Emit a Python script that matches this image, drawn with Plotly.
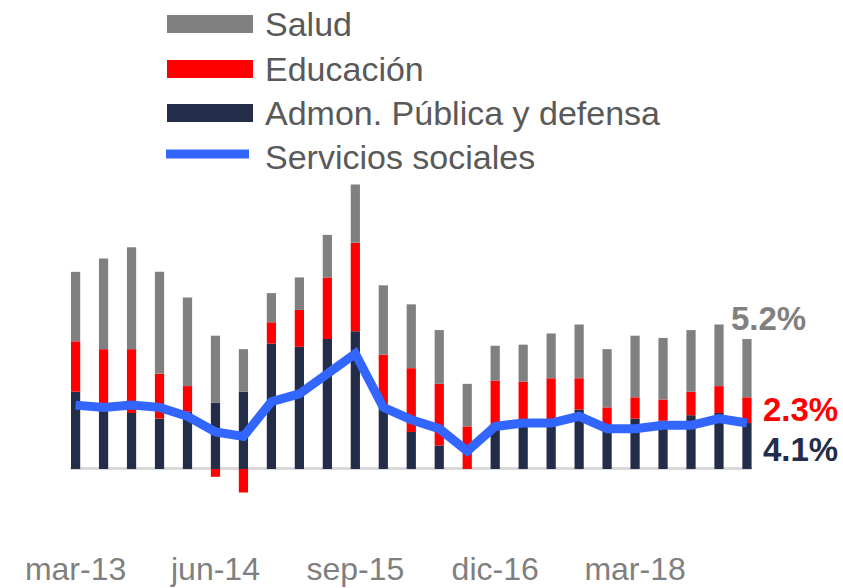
import plotly.graph_objects as go

quarters = ["mar-13", "jun-13", "sep-13", "dic-13", "mar-14", "jun-14", "sep-14", "dic-14",
            "mar-15", "jun-15", "sep-15", "dic-15", "mar-16", "jun-16", "sep-16", "dic-16",
            "mar-17", "jun-17", "sep-17", "dic-17", "mar-18", "jun-18", "sep-18", "dic-18", "mar-19"]
tick_labels = ["mar-13", "jun-14", "sep-15", "dic-16", "mar-18"]

admon = [6.9, 5.8, 5.0, 4.5, 5.1, 5.9, 6.9, 11.2, 10.9, 11.6, 12.3, 5.6, 3.3, 2.1, 0.0,
         3.7, 3.9, 3.9, 5.3, 4.0, 4.5, 4.3, 4.8, 5.0, 4.1]
educacion = [4.5, 4.9, 5.7, 4.0, 2.3, -0.7, -2.1, 1.9, 3.3, 5.5, 7.9, 4.6, 5.7, 5.5, 3.8,
             4.2, 3.9, 4.2, 2.8, 1.5, 1.9, 1.9, 2.1, 2.4, 2.3]
salud = [6.2, 8.1, 9.1, 9.1, 7.9, 6.0, 3.8, 2.6, 2.9, 3.8, 5.2, 6.2, 5.7, 4.8, 3.8,
         3.1, 3.3, 4.0, 4.8, 5.2, 5.5, 5.5, 5.5, 5.5, 5.2]
servicios = [5.7, 5.5, 5.7, 5.5, 4.7, 3.3, 2.9, 6.0, 6.7, 8.5, 10.3, 5.5, 4.4, 3.6, 1.6,
             3.8, 4.1, 4.1, 4.7, 3.6, 3.6, 3.9, 3.9, 4.5, 4.1]

C_GRAY = "#808080"
C_RED = "#FF0000"
C_NAVY = "#232C48"
C_BLUE = "#3366FF"
FONT = "Liberation Sans, Arial, sans-serif"

W, H = 843, 588
ML, MR, MT, MB = 70, 91, 180, 46

def px_x(p):
    return (p - ML) / (W - ML - MR)

def px_y(p):
    return (H - MB - p) / (H - MT - MB)

fig = go.Figure()
fig.add_trace(go.Bar(x=quarters, y=admon, name="Admon. Pública y defensa",
                     marker=dict(color=C_NAVY, line=dict(width=0)), width=0.33, showlegend=False))
fig.add_trace(go.Bar(x=quarters, y=educacion, name="Educación",
                     marker=dict(color=C_RED, line=dict(width=0)), width=0.33, showlegend=False))
fig.add_trace(go.Bar(x=quarters, y=salud, name="Salud",
                     marker=dict(color=C_GRAY, line=dict(width=0)), width=0.33, showlegend=False))
fig.add_trace(go.Scatter(x=quarters, y=servicios, name="Servicios sociales", mode="lines",
                         line=dict(color=C_BLUE, width=9), showlegend=False))

legend_items = [("Salud", C_GRAY, 24), ("Educación", C_RED, 69),
                ("Admon. Pública y defensa", C_NAVY, 113)]
shapes = []
annotations = []
for name, col, yc in legend_items:
    shapes.append(dict(type="rect", xref="paper", yref="paper",
                       x0=px_x(167), x1=px_x(253), y0=px_y(yc + 9), y1=px_y(yc - 9),
                       fillcolor=col, line=dict(width=0)))
    annotations.append(dict(text=name, xref="paper", yref="paper", x=px_x(263), y=px_y(yc),
                            xanchor="left", yanchor="middle", showarrow=False,
                            font=dict(family=FONT, size=34, color="#595959")))
shapes.append(dict(type="line", xref="paper", yref="paper",
                   x0=px_x(166), x1=px_x(249), y0=px_y(154), y1=px_y(154),
                   line=dict(color=C_BLUE, width=9)))
annotations.append(dict(text="Servicios sociales", xref="paper", yref="paper", x=px_x(263), y=px_y(157),
                        xanchor="left", yanchor="middle", showarrow=False,
                        font=dict(family=FONT, size=34, color="#595959")))

last = quarters[-1]
annotations.append(dict(text=f"{salud[-1]:.1f}%", x=last, y=13.4, xref="x", yref="y",
                        xanchor="left", yanchor="middle", xshift=-18, showarrow=False,
                        font=dict(family=FONT, size=33, color=C_GRAY, weight="bold")))
annotations.append(dict(text=f"{educacion[-1]:.1f}%", x=last, y=5.3, xref="x", yref="y",
                        xanchor="left", yanchor="middle", xshift=14, showarrow=False,
                        font=dict(family=FONT, size=33, color=C_RED, weight="bold")))
annotations.append(dict(text=f"{admon[-1]:.1f}%", x=last, y=1.7, xref="x", yref="y",
                        xanchor="left", yanchor="middle", xshift=14, showarrow=False,
                        font=dict(family=FONT, size=33, color=C_NAVY, weight="bold")))

fig.update_layout(
    width=W, height=H,
    margin=dict(l=ML, r=MR, t=MT, b=MB, pad=0, autoexpand=False),
    paper_bgcolor="white", plot_bgcolor="white",
    barmode="relative",
    shapes=shapes, annotations=annotations,
    xaxis=dict(type="category", range=[-0.2, 24.18], tickmode="array",
               tickvals=tick_labels, ticktext=tick_labels, automargin=False,
               showgrid=False, showline=False, zeroline=False, ticks="",
               ticklabelstandoff=5,
               tickfont=dict(family=FONT, size=32, color="#7F7F7F")),
    yaxis=dict(range=[-6.52, 25.8], showgrid=False, showline=False, showticklabels=False,
               automargin=False,
               zeroline=True, zerolinecolor="#D9D9D9", zerolinewidth=3),
)

post = "document.body.style.margin='0';"
fig.write_html("out.html", post_script=post, config={"displayModeBar": False})
